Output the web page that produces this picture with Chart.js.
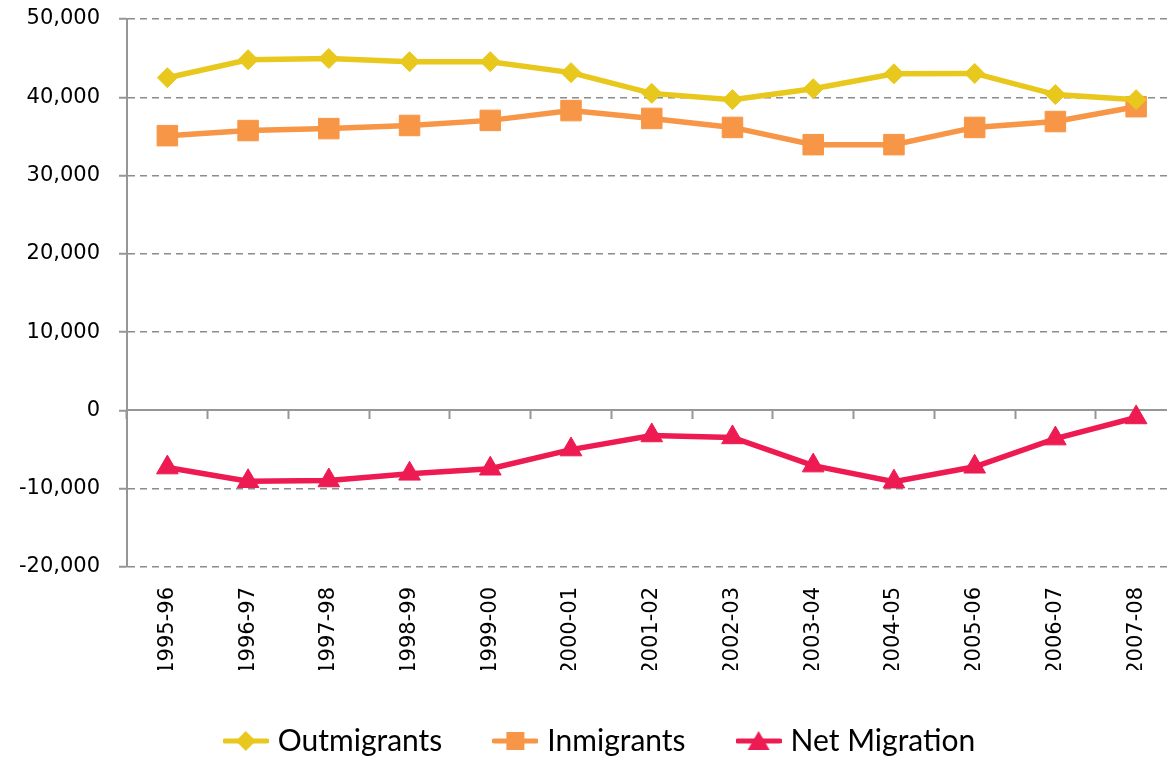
<!DOCTYPE html>
<html>
<head>
<meta charset="utf-8">
<script src="https://cdn.jsdelivr.net/npm/chart.js@4/dist/chart.umd.min.js"></script>
<style>
html,body{margin:0;padding:0;background:#fff;overflow:hidden;width:1167px;height:758px;}
#wrap{width:1192px;height:758px;}
</style>
</head>
<body>
<div id="wrap"><canvas id="c" width="1192" height="758"></canvas></div>
<script>
const categories = ['1995-96','1996-97','1997-98','1998-99','1999-00','2000-01','2001-02','2002-03','2003-04','2004-05','2005-06','2006-07','2007-08'];
const outmigrants = [42500, 44800, 44950, 44550, 44550, 43150, 40500, 39700, 41100, 43000, 43050, 40350, 39700];
const inmigrants = [35100, 35750, 36000, 36400, 37050, 38300, 37300, 36150, 33950, 33950, 36150, 36900, 38800];
const netMigration = [-7300, -9050, -8950, -8100, -7450, -5000, -3200, -3450, -7050, -9100, -7200, -3600, -900];
const seriesNames = ['Outmigrants', 'Inmigrants', 'Net Migration'];
const yTicks = [-20000, -10000, 0, 10000, 20000, 30000, 40000, 50000];

const YELLOW = '#E8C81C', ORANGE = '#F79646', RED = '#ED1B51', GRID = '#8c8c8c', AXIS = '#969696';
const TICK_FONT = { family: "'DejaVu Sans', sans-serif", size: 21 };

function legendIcon(color, shape){
  const c = document.createElement('canvas');
  c.width = 46; c.height = 24;
  const g = c.getContext('2d');
  g.strokeStyle = color; g.fillStyle = color; g.lineWidth = 5; g.lineCap = 'round';
  g.beginPath(); g.moveTo(2, 12); g.lineTo(44, 12); g.stroke();
  g.beginPath();
  if (shape === 'diamond') { g.moveTo(23, 2); g.lineTo(33, 12); g.lineTo(23, 22); g.lineTo(13, 12); }
  else if (shape === 'square') { g.rect(14, 3, 18, 18); }
  else { g.moveTo(23, 2); g.lineTo(34, 21); g.lineTo(12, 21); }
  g.closePath(); g.fill();
  return c;
}
const icons = [legendIcon(YELLOW,'diamond'), legendIcon(ORANGE,'square'), legendIcon(RED,'triangle')];

function noPad(s){ s.paddingLeft = 0; s.paddingRight = 0; s.paddingTop = 0; s.paddingBottom = 0; }

new Chart(document.getElementById('c'), {
  type: 'line',
  data: {
    labels: categories,
    datasets: [
      {label: seriesNames[0], data: outmigrants, borderColor: YELLOW, backgroundColor: YELLOW, borderWidth: 5.5, tension: 0, pointStyle: 'rectRot', pointRadius: 10, pointBackgroundColor: YELLOW, pointBorderColor: YELLOW, pointBorderWidth: 1},
      {label: seriesNames[1], data: inmigrants, borderColor: ORANGE, backgroundColor: ORANGE, borderWidth: 5.5, tension: 0, pointStyle: 'rect', pointRadius: 14.5, pointBackgroundColor: ORANGE, pointBorderColor: ORANGE, pointBorderWidth: 1},
      {label: seriesNames[2], data: netMigration, borderColor: RED, backgroundColor: RED, borderWidth: 5.5, tension: 0, pointStyle: 'triangle', pointRadius: 12.5, pointBackgroundColor: RED, pointBorderColor: RED, pointBorderWidth: 1}
    ]
  },
  options: {
    responsive: false,
    animation: false,
    devicePixelRatio: 1,
    layout: { padding: { left: 15, right: 3, top: 19, bottom: -8 } },
    plugins: {
      tooltip: { enabled: false },
      legend: {
        position: 'bottom',
        labels: {
          usePointStyle: true,
          pointStyleWidth: 34,
          padding: 56,
          color: '#000',
          font: { family: "Lato, sans-serif", size: 30 },
          generateLabels: (chart) => chart.data.datasets.map((ds, i) => ({
            text: ds.label, pointStyle: icons[i], fillStyle: ds.borderColor, strokeStyle: ds.borderColor,
            lineWidth: 0, hidden: false, datasetIndex: i, fontColor: '#000'
          }))
        }
      }
    },
    scales: {
      y: {
        min: -20000, max: 50000,
        afterBuildTicks: (s) => { s.ticks = yTicks.map(v => ({value: v})); },
        afterFit: (s) => { s.width = 112; noPad(s); },
        ticks: { color: '#000', font: TICK_FONT, padding: 19,
                 callback: (v) => Number(v).toLocaleString('en-US') },
        grid: { color: (ctx) => (ctx.tick && ctx.tick.value === 0) ? 'rgba(0,0,0,0)' : GRID,
                tickColor: AXIS, lineWidth: 1.5, tickWidth: 2, tickLength: 8, drawTicks: true },
        border: { display: true, color: AXIS, width: 2, dash: [7, 5] }
      },
      x: {
        type: 'category',
        position: { y: 0 },
        offset: true,
        afterFit: (s) => { noPad(s); },
        ticks: { display: false },
        grid: { drawOnChartArea: false, drawTicks: true, tickLength: 8, offset: true, color: AXIS, tickColor: AXIS, tickWidth: 2 },
        border: { display: true, color: AXIS, width: 2 }
      },
      x2: {
        type: 'category',
        position: 'bottom',
        display: true,
        offset: true,
        labels: categories,
        afterFit: (s) => { s.height = 103; noPad(s); },
        ticks: { color: '#000', font: TICK_FONT, minRotation: 90, maxRotation: 90, padding: 20, autoSkip: false },
        grid: { display: false, drawTicks: false },
        border: { display: false }
      }
    }
  }
});
</script>
</body>
</html>
